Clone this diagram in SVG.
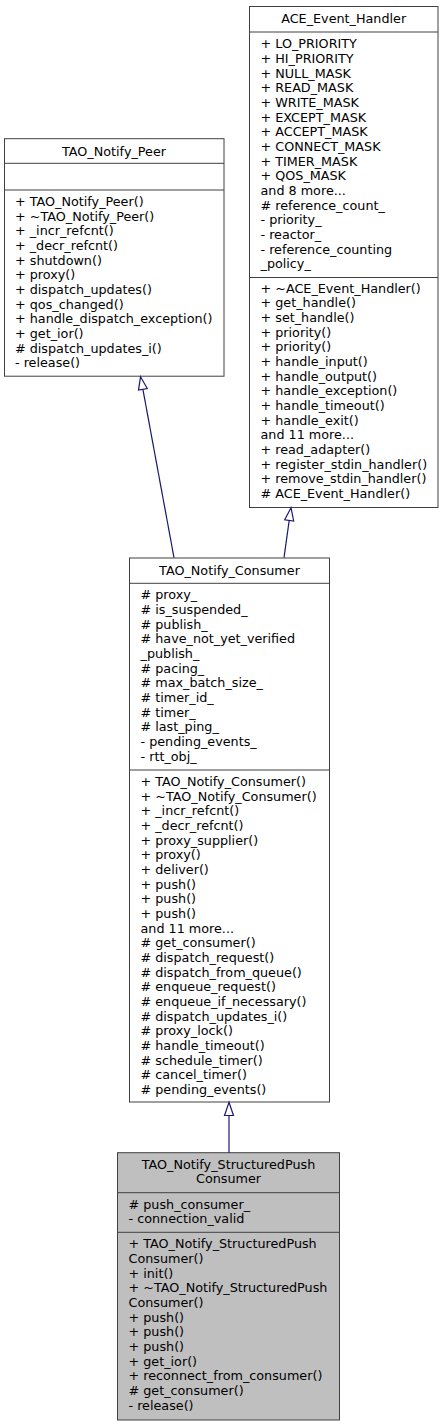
<svg xmlns="http://www.w3.org/2000/svg" width="444" height="1427" viewBox="0 0 444 1427">
<style>
text{font-family:"DejaVu Sans",sans-serif;font-size:12.75px;fill:#000}
.t{text-anchor:middle}
.b{fill:#fff;stroke:#404040;stroke-width:1}
.g{fill:#bfbfbf;stroke:#404040;stroke-width:1}
.d{stroke:#404040;stroke-width:1}
.e{fill:none;stroke:#191970;stroke-width:1.2}
.a{fill:#fff;stroke:#191970;stroke-width:1.2}
</style>
<rect width="444" height="1427" fill="#fff"/>
<g id="ACE_Event_Handler">
<rect class="b" x="249.5" y="6.5" width="188.5" height="501"/>
<line class="d" x1="249.5" y1="32" x2="438" y2="32"/>
<line class="d" x1="249.5" y1="277.5" x2="438" y2="277.5"/>
<text class="t" x="343.7" y="23">ACE_Event_Handler</text>
<text x="260.5" y="48.3">+ LO_PRIORITY</text>
<text x="260.5" y="63">+ HI_PRIORITY</text>
<text x="260.5" y="77.6">+ NULL_MASK</text>
<text x="260.5" y="92.3">+ READ_MASK</text>
<text x="260.5" y="107">+ WRITE_MASK</text>
<text x="260.5" y="121.6">+ EXCEPT_MASK</text>
<text x="260.5" y="136.3">+ ACCEPT_MASK</text>
<text x="260.5" y="151">+ CONNECT_MASK</text>
<text x="260.5" y="165.7">+ TIMER_MASK</text>
<text x="260.5" y="180.3">+ QOS_MASK</text>
<text x="260.5" y="195">and 8 more...</text>
<text x="260.5" y="209.7"># reference_count_</text>
<text x="260.5" y="224.3">- priority_</text>
<text x="260.5" y="239">- reactor_</text>
<text x="260.5" y="253.7">- reference_counting</text>
<text x="260.5" y="268.4">_policy_</text>
<text x="260.5" y="292.7">+ ~ACE_Event_Handler()</text>
<text x="260.5" y="307.4">+ get_handle()</text>
<text x="260.5" y="322">+ set_handle()</text>
<text x="260.5" y="336.7">+ priority()</text>
<text x="260.5" y="351.4">+ priority()</text>
<text x="260.5" y="366">+ handle_input()</text>
<text x="260.5" y="380.7">+ handle_output()</text>
<text x="260.5" y="395.4">+ handle_exception()</text>
<text x="260.5" y="410">+ handle_timeout()</text>
<text x="260.5" y="424.7">+ handle_exit()</text>
<text x="260.5" y="439.4">and 11 more...</text>
<text x="260.5" y="454">+ read_adapter()</text>
<text x="260.5" y="468.7">+ register_stdin_handler()</text>
<text x="260.5" y="483.4">+ remove_stdin_handler()</text>
<text x="260.5" y="498"># ACE_Event_Handler()</text>
</g>
<g id="TAO_Notify_Peer">
<rect class="b" x="4.5" y="138.7" width="219.5" height="237.5"/>
<line class="d" x1="4.5" y1="163.3" x2="224" y2="163.3"/>
<line class="d" x1="4.5" y1="190" x2="224" y2="190"/>
<text class="t" x="114" y="156">TAO_Notify_Peer</text>
<text x="15" y="206">+ TAO_Notify_Peer()</text>
<text x="15" y="220.7">+ ~TAO_Notify_Peer()</text>
<text x="15" y="235.3">+ _incr_refcnt()</text>
<text x="15" y="250">+ _decr_refcnt()</text>
<text x="15" y="264.7">+ shutdown()</text>
<text x="15" y="279.4">+ proxy()</text>
<text x="15" y="294">+ dispatch_updates()</text>
<text x="15" y="308.7">+ qos_changed()</text>
<text x="15" y="323.4">+ handle_dispatch_exception()</text>
<text x="15" y="338">+ get_ior()</text>
<text x="15" y="352.7"># dispatch_updates_i()</text>
<text x="15" y="367.4">- release()</text>
</g>
<g id="TAO_Notify_Consumer">
<rect class="b" x="129.5" y="558" width="200" height="544"/>
<line class="d" x1="129.5" y1="583.3" x2="329.5" y2="583.3"/>
<line class="d" x1="129.5" y1="770" x2="329.5" y2="770"/>
<text class="t" x="229.5" y="575">TAO_Notify_Consumer</text>
<text x="140.5" y="599.3"># proxy_</text>
<text x="140.5" y="614"># is_suspended_</text>
<text x="140.5" y="628.6"># publish_</text>
<text x="140.5" y="643.3"># have_not_yet_verified</text>
<text x="140.5" y="658">_publish_</text>
<text x="140.5" y="672.6"># pacing_</text>
<text x="140.5" y="687.3"># max_batch_size_</text>
<text x="140.5" y="702"># timer_id_</text>
<text x="140.5" y="716.7"># timer_</text>
<text x="140.5" y="731.3"># last_ping_</text>
<text x="140.5" y="746">- pending_events_</text>
<text x="140.5" y="760.7">- rtt_obj_</text>
<text x="140.5" y="786">+ TAO_Notify_Consumer()</text>
<text x="140.5" y="800.7">+ ~TAO_Notify_Consumer()</text>
<text x="140.5" y="815.3">+ _incr_refcnt()</text>
<text x="140.5" y="830">+ _decr_refcnt()</text>
<text x="140.5" y="844.7">+ proxy_supplier()</text>
<text x="140.5" y="859.4">+ proxy()</text>
<text x="140.5" y="874">+ deliver()</text>
<text x="140.5" y="888.7">+ push()</text>
<text x="140.5" y="903.4">+ push()</text>
<text x="140.5" y="918">+ push()</text>
<text x="140.5" y="932.7">and 11 more...</text>
<text x="140.5" y="947.4"># get_consumer()</text>
<text x="140.5" y="962"># dispatch_request()</text>
<text x="140.5" y="976.7"># dispatch_from_queue()</text>
<text x="140.5" y="991.4"># enqueue_request()</text>
<text x="140.5" y="1006"># enqueue_if_necessary()</text>
<text x="140.5" y="1020.7"># dispatch_updates_i()</text>
<text x="140.5" y="1035.4"># proxy_lock()</text>
<text x="140.5" y="1050"># handle_timeout()</text>
<text x="140.5" y="1064.7"># schedule_timer()</text>
<text x="140.5" y="1079.4"># cancel_timer()</text>
<text x="140.5" y="1094"># pending_events()</text>
</g>
<g id="TAO_Notify_StructuredPushConsumer">
<rect class="g" x="117.5" y="1152.7" width="222" height="267.3"/>
<line class="d" x1="117.5" y1="1192.7" x2="339.5" y2="1192.7"/>
<line class="d" x1="117.5" y1="1232.3" x2="339.5" y2="1232.3"/>
<text class="t" x="228.5" y="1168.5">TAO_Notify_StructuredPush</text>
<text class="t" x="228.5" y="1183.2">Consumer</text>
<text x="128.5" y="1208.7"># push_consumer_</text>
<text x="128.5" y="1223.4">- connection_valid</text>
<text x="128.5" y="1248.3">+ TAO_Notify_StructuredPush</text>
<text x="128.5" y="1263">Consumer()</text>
<text x="128.5" y="1277.6">+ init()</text>
<text x="128.5" y="1292.3">+ ~TAO_Notify_StructuredPush</text>
<text x="128.5" y="1307">Consumer()</text>
<text x="128.5" y="1321.7">+ push()</text>
<text x="128.5" y="1336.3">+ push()</text>
<text x="128.5" y="1351">+ push()</text>
<text x="128.5" y="1365.7">+ get_ior()</text>
<text x="128.5" y="1380.3">+ reconnect_from_consumer()</text>
<text x="128.5" y="1395"># get_consumer()</text>
<text x="128.5" y="1409.7">- release()</text>
</g>
<g id="connectors">
<line class="e" x1="174" y1="557.7" x2="142.9" y2="389.3"/>
<polygon class="a" points="140.5,376.8 147.3,388.5 138.5,390.1"/>
<line class="e" x1="284" y1="557.7" x2="289.2" y2="520.4"/>
<polygon class="a" points="291,507.8 293.7,521 284.7,519.8"/>
<line class="e" x1="229" y1="1152.7" x2="229" y2="1115.5"/>
<polygon class="a" points="229,1102.3 233.5,1115.5 224.5,1115.5"/>
</g>
</svg>
